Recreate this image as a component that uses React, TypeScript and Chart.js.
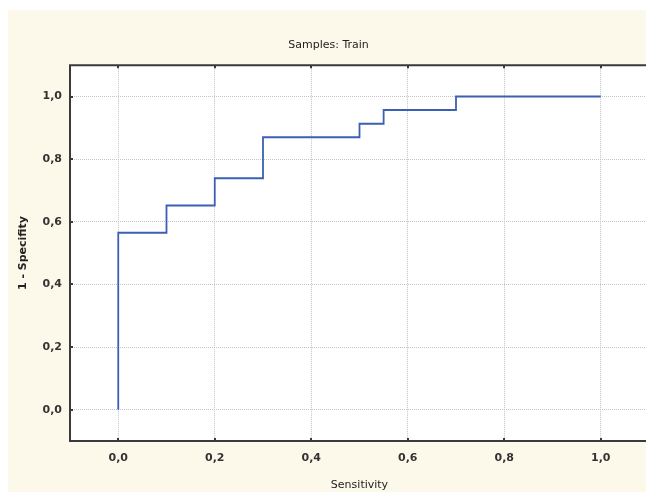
import React, { useEffect, useRef } from "react";
import { Chart, registerables } from "chart.js";

Chart.register(...registerables);

// ROC curve points (x = Sensitivity axis, y = 1 - Specifity axis)
const xValues = [0, 0, 0.1, 0.1, 0.2, 0.2, 0.3, 0.3, 0.5, 0.5, 0.55, 0.55, 0.7, 0.7, 1.0];
const yValues = [0, 0.565, 0.565, 0.652, 0.652, 0.739, 0.739, 0.87, 0.87, 0.913, 0.913, 0.957, 0.957, 1.0, 1.0];
const xTicks = [0, 0.2, 0.4, 0.6, 0.8, 1.0];
const yTicks = [0, 0.2, 0.4, 0.6, 0.8, 1.0];
const chartTitle = "Samples: Train";
const xTitle = "Sensitivity";
const yTitle = "1 - Specifity";

const fmt = (v: number) => Number(v).toFixed(1).replace(".", ",");

const framePlugin = {
  id: "frame",
  beforeDraw(chart: any) {
    const { ctx, chartArea } = chart;
    ctx.save();
    ctx.fillStyle = "#ffffff";
    ctx.fillRect(chartArea.left, chartArea.top, chartArea.right - chartArea.left, chartArea.bottom - chartArea.top);
    ctx.restore();
  },
  afterDraw(chart: any) {
    const { ctx, chartArea, scales } = chart;
    const { left, right, top, bottom } = chartArea;
    ctx.save();
    ctx.strokeStyle = "#3a3a3a";
    ctx.lineWidth = 2;
    ctx.beginPath();
    ctx.moveTo(right + 5, top);
    ctx.lineTo(left, top);
    ctx.lineTo(left, bottom);
    ctx.lineTo(right + 5, bottom);
    ctx.stroke();
    ctx.lineWidth = 2;
    ctx.beginPath();
    xTicks.forEach((v) => {
      const x = Math.round(scales.x.getPixelForValue(v));
      ctx.moveTo(x, top);
      ctx.lineTo(x, top + 3);
      ctx.moveTo(x, bottom);
      ctx.lineTo(x, bottom - 3);
    });
    yTicks.forEach((v) => {
      const y = Math.round(scales.y.getPixelForValue(v));
      ctx.moveTo(left, y);
      ctx.lineTo(left + 3, y);
    });
    ctx.stroke();
    ctx.restore();
  },
};

export default function App() {
  const ref = useRef<HTMLCanvasElement | null>(null);
  useEffect(() => {
    if (!ref.current) return;
    const chart = new Chart(ref.current, {
      type: "line",
      data: {
        datasets: [
          {
            data: xValues.map((x, i) => ({ x, y: yValues[i] })),
            borderColor: "#3b5fb5",
            borderWidth: 1.8,
            pointRadius: 0,
            tension: 0,
            fill: false,
          },
        ],
      },
      options: {
        animation: false,
        responsive: false,
        layout: { padding: { left: 0, right: 39, top: 0, bottom: 0 } },
        plugins: {
          legend: { display: false },
          tooltip: { enabled: false },
          title: {
            display: true,
            text: chartTitle,
            color: "#222222",
            font: { family: "'DejaVu Sans'", size: 11, weight: "normal" },
            padding: { top: 29, bottom: 13 },
          },
        },
        scales: {
          x: {
            type: "linear",
            min: -0.1,
            max: 1.1,
            afterBuildTicks: (s: any) => {
              s.ticks = xTicks.map((v) => ({ value: v }));
            },
            afterFit: (s: any) => {
              s.height = 51;
            },
            grid: { color: "#c4c4c4", lineWidth: 1, drawTicks: false },
            border: { display: false, dash: [1, 1] },
            ticks: {
              padding: 11,
              color: "#333333",
              font: { family: "'DejaVu Sans'", size: 11, weight: "bold" },
              callback: (v: any) => fmt(v),
              maxRotation: 0,
            },
            title: {
              display: true,
              text: xTitle,
              color: "#222222",
              font: { family: "'DejaVu Sans'", size: 11, weight: "normal" },
              padding: { top: 0, bottom: 0 },
            },
          },
          y: {
            type: "linear",
            min: -0.1,
            max: 1.1,
            afterBuildTicks: (s: any) => {
              s.ticks = yTicks.map((v) => ({ value: v }));
            },
            afterFit: (s: any) => {
              s.width = 62;
            },
            grid: { color: "#c4c4c4", lineWidth: 1, drawTicks: false },
            border: { display: false, dash: [1, 1] },
            ticks: {
              padding: 8,
              color: "#333333",
              font: { family: "'DejaVu Sans'", size: 11, weight: "bold" },
              callback: (v: any) => fmt(v),
            },
            title: {
              display: true,
              text: yTitle,
              color: "#222222",
              font: { family: "'DejaVu Sans'", size: 11, weight: "bold" },
              padding: { top: 9, bottom: 0 },
            },
          },
        },
      },
      plugins: [framePlugin],
    } as any);
    return () => chart.destroy();
  }, []);
  return (
    <div
      style={{
        position: "fixed",
        left: 8,
        top: 10,
        width: 638,
        height: 482,
        overflow: "hidden",
        background: "#fdf9ea",
      }}
    >
      <canvas ref={ref} width={680} height={482} style={{ display: "block" }} />
    </div>
  );
}
